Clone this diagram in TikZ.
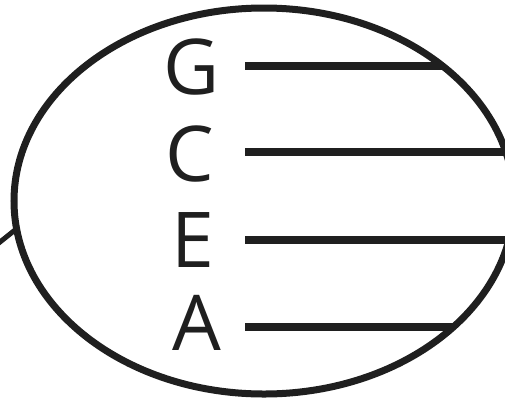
\documentclass[tikz,border=0pt]{standalone}
\usepackage{fontspec}
\setmainfont{Open Sans}
\begin{document}
\begin{tikzpicture}[x=1pt,y=-1pt,
  outline/.style={line width=7pt,draw=black!88},
  rung/.style={line width=7.5pt,draw=black!88},
  letter/.style={font=\fontsize{77}{77}\selectfont,text=black!88,anchor=base,inner sep=0pt}]
\useasboundingbox (0,0) rectangle (505,402);
\begin{scope}
\clip (0,0) rectangle (505,402);
\node[letter] (G) at (192,94) {G};
\node[letter] (C) at (190,181) {C};
\node[letter] (E) at (193,267) {E};
\node[letter] (A) at (197,350) {A};
\coordinate (gs) at (245,66);
\coordinate (cs) at (245,152);
\coordinate (es) at (245,240);
\coordinate (as) at (245,327);
\coordinate (ge) at (530,66);
\coordinate (ce) at (530,152);
\coordinate (ee) at (530,240);
\coordinate (ae) at (530,327);
\begin{scope}
\clip (264,201) ellipse [x radius=250, y radius=193];
\draw[rung] (gs) -- (ge);
\draw[rung] (cs) -- (ce);
\draw[rung] (es) -- (ee);
\draw[rung] (as) -- (ae);
\end{scope}
\draw[outline] (264,201) ellipse [x radius=250, y radius=193];
\coordinate (tail) at (-20,258);
\coordinate (join) at (15,230);
\draw[outline,line width=5pt] (tail) -- (join);
\end{scope}
\end{tikzpicture}
\end{document}
